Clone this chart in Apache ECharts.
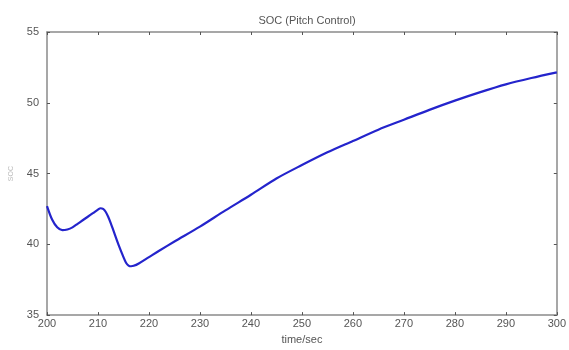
<!DOCTYPE html>
<html>
<head>
<meta charset="utf-8">
<script src="https://cdn.jsdelivr.net/npm/echarts@6/dist/echarts.min.js"></script>
<style>html,body{margin:0;padding:0;background:#fff;}#c{width:569px;height:350px;}</style>
</head>
<body>
<div id="c"></div>
<script>
var titleText = 'SOC (Pitch Control)';
var xName = 'time/sec';
var yName = 'SOC';
var timeValues = [200, 201, 202, 203, 204, 205, 206, 207, 208, 209, 210, 210.5, 211, 211.5, 212, 212.5, 213, 214, 215, 215.5, 216, 216.5, 217, 218, 220, 222, 225, 230, 235, 240, 245, 250, 255, 260, 265, 270, 275, 280, 285, 290, 295, 300];
var socValues = [42.7, 41.75, 41.2, 41.0, 41.05, 41.2, 41.45, 41.7, 41.95, 42.2, 42.45, 42.55, 42.5, 42.3, 41.95, 41.5, 41.0, 40.0, 39.1, 38.7, 38.5, 38.45, 38.48, 38.65, 39.1, 39.55, 40.2, 41.25, 42.4, 43.5, 44.65, 45.6, 46.5, 47.3, 48.1, 48.8, 49.5, 50.15, 50.75, 51.3, 51.75, 52.15];

var seriesData = timeValues.map(function (t, i) { return [t, socValues[i]]; });

var axisColor = '#8a8a8a';
var labelColor = '#555';
var font = 'Liberation Sans, Arial, sans-serif';

var chart = echarts.init(document.getElementById('c'), null, {renderer: 'canvas'});
chart.setOption({
  animation: false,
  backgroundColor: '#fff',
  title: {
    text: titleText,
    left: 302, textAlign: 'center', top: 10,
    textStyle: {fontSize: 11, fontWeight: 'normal', color: '#555', fontFamily: font}
  },
  grid: {left: 45, right: 9, top: 32, bottom: 32},
  xAxis: [{
    type: 'value', min: 200, max: 300, interval: 10,
    name: xName, nameLocation: 'middle', nameGap: 16,
    nameTextStyle: {fontSize: 11, color: labelColor, fontFamily: font},
    axisLine: {show: true, lineStyle: {color: axisColor, width: 1.5}},
    axisTick: {show: true, inside: true, length: 3, lineStyle: {color: '#555'}},
    axisLabel: {fontSize: 11, color: labelColor, margin: 3, fontFamily: font},
    splitLine: {show: false}
  }, {
    type: 'value', min: 200, max: 300, interval: 10, position: 'top',
    axisLine: {show: true, lineStyle: {color: axisColor, width: 1.5}},
    axisTick: {show: true, inside: true, length: 3, lineStyle: {color: '#555'}},
    axisLabel: {show: false},
    splitLine: {show: false}
  }],
  yAxis: [{
    type: 'value', min: 35, max: 55, interval: 5,
    name: yName, nameLocation: 'middle', nameGap: 32, nameRotate: 90,
    nameTextStyle: {fontSize: 7, color: '#bbb', fontFamily: font},
    axisLine: {show: true, lineStyle: {color: axisColor, width: 1.5}},
    axisTick: {show: true, inside: true, length: 3, lineStyle: {color: '#555'}},
    axisLabel: {fontSize: 11, color: labelColor, margin: 8, fontFamily: font},
    splitLine: {show: false}
  }, {
    type: 'value', min: 35, max: 55, interval: 5, position: 'right',
    axisLine: {show: true, lineStyle: {color: axisColor, width: 1.5}},
    axisTick: {show: true, inside: true, length: 3, lineStyle: {color: '#555'}},
    axisLabel: {show: false},
    splitLine: {show: false}
  }],
  series: [{
    type: 'line',
    data: seriesData,
    smooth: 0.3,
    showSymbol: false,
    lineStyle: {color: '#2424cc', width: 2.2},
    itemStyle: {color: '#2424cc'}
  }]
});
</script>
</body>
</html>
